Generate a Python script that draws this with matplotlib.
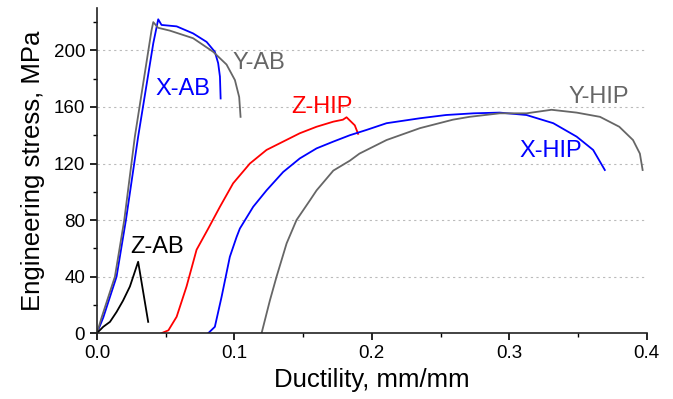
import numpy as np
import matplotlib
matplotlib.use("Agg")
import matplotlib.pyplot as plt
from matplotlib.ticker import MultipleLocator, FormatStrFormatter

plt.rcParams['font.family'] = ['Liberation Sans', 'DejaVu Sans']

# curves: strain (mm/mm), stress (MPa)
xab_x = [0.0, 0.0046, 0.0143, 0.0211, 0.030, 0.041, 0.0446, 0.047, 0.058, 0.070, 0.0798, 0.0858, 0.0882, 0.0895, 0.090]
xab_y = [0, 11, 40, 80, 139, 205, 222, 218, 217, 212, 206, 199, 191, 181.5, 166]

yab_x = [0.0, 0.0034, 0.0131, 0.0199, 0.0276, 0.0397, 0.041, 0.0445, 0.053, 0.070, 0.0846, 0.0943, 0.1004, 0.1035, 0.1045]
yab_y = [0, 11, 40, 80, 139, 214, 220, 216, 214, 208.6, 199, 190, 179, 167, 153]

zab_x = [0.0, 0.0046, 0.0095, 0.0143, 0.019, 0.024, 0.030, 0.0373]
zab_y = [0, 4.5, 8, 15, 23, 33, 50.5, 8]

zhip_x = [0.047, 0.052, 0.058, 0.0652, 0.0725, 0.081, 0.0895, 0.0991, 0.1113, 0.1234, 0.1355, 0.1476, 0.1598, 0.172, 0.179, 0.1816, 0.1876, 0.190]
zhip_y = [0, 2, 11.6, 33, 59, 74, 89.4, 106, 120, 129.6, 135.5, 141.4, 146, 149.6, 151, 152.7, 147, 141]

xhip_x = [0.081, 0.0858, 0.0907, 0.0967, 0.1016, 0.104, 0.1137, 0.1234, 0.1355, 0.1476, 0.1598, 0.172, 0.184, 0.196, 0.2107, 0.235, 0.254, 0.274, 0.293, 0.3125, 0.332, 0.349, 0.361, 0.3695]
xhip_y = [0, 4.5, 25.7, 54, 68, 74, 89.4, 101, 114, 123.6, 130.7, 135.5, 140, 143.7, 148.5, 152, 154.3, 155.5, 156, 154.3, 148.5, 139, 129.6, 115.4]

yhip_x = [0.1198, 0.1258, 0.1307, 0.138, 0.1452, 0.155, 0.1598, 0.172, 0.184, 0.191, 0.2107, 0.235, 0.259, 0.271, 0.293, 0.3125, 0.3307, 0.349, 0.366, 0.380, 0.390, 0.395, 0.397]
yhip_y = [0, 23, 40, 63.5, 80, 94, 101, 115, 122, 127, 136.6, 145, 151, 153, 155.5, 155.5, 158, 156, 153, 146, 136.6, 127, 115.4]

labels = ['X-AB', 'Y-AB', 'Z-AB', 'Z-HIP', 'X-HIP', 'Y-HIP']
label_pos = [(0.0625, 173), (0.118, 191), (0.0435, 61), (0.164, 160), (0.330, 129), (0.365, 167)]

blue = '#0000ff'
red = '#ff0000'
gray = '#666666'
colors = [blue, gray, 'black', red, blue, gray]

fig = plt.figure(figsize=(6.73, 3.99), dpi=100)
ax = fig.add_axes([0.144, 0.165, 0.817, 0.815])

curves = [(xab_x, xab_y), (yab_x, yab_y), (zab_x, zab_y),
          (zhip_x, zhip_y), (xhip_x, xhip_y), (yhip_x, yhip_y)]
for (cx, cy), c in zip(curves, colors):
    ax.plot(cx, cy, color=c, lw=1.3)

for lab, (lx, ly), c in zip(labels, label_pos, colors):
    ax.text(lx, ly, lab, color=c, fontsize=17, ha='center', va='center')

ax.set_xlim(0, 0.4)
ax.set_ylim(0, 230)
ax.xaxis.set_major_locator(MultipleLocator(0.1))
ax.xaxis.set_minor_locator(MultipleLocator(0.05))
ax.set_yticks([0, 40, 80, 120, 160, 200])
ax.yaxis.set_minor_locator(MultipleLocator(20))
ax.xaxis.set_major_formatter(FormatStrFormatter('%.1f'))

for g in [40, 80, 120, 160, 200]:
    ax.axhline(g, color='#bbbbbb', lw=0.8, ls=(0, (2, 3)), zorder=0)

ax.spines['top'].set_visible(False)
ax.spines['right'].set_visible(False)
for s in ['left', 'bottom']:
    ax.spines[s].set_linewidth(1.2)
    ax.spines[s].set_color('#222222')
ax.tick_params(which='major', direction='out', length=5, width=1.2, labelsize=13.5)
ax.tick_params(which='minor', direction='out', length=3, width=1.0)

ax.set_xlabel('Ductility, mm/mm', fontsize=18.5, labelpad=4)
ax.set_ylabel('Engineering stress, MPa', fontsize=18.5, labelpad=6)

fig.savefig('out.png', dpi=100)
